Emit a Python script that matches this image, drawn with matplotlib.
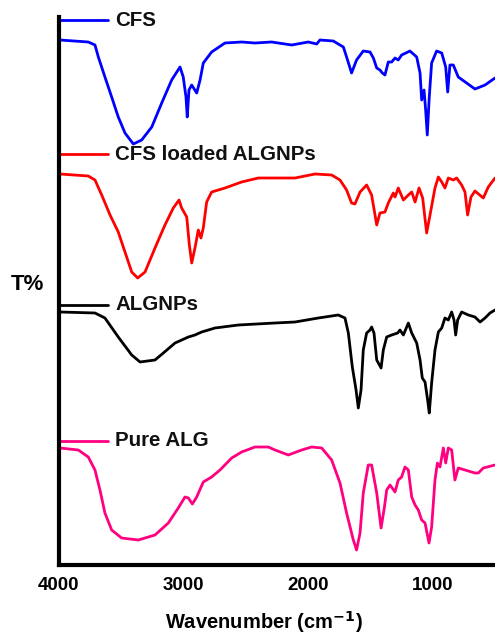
import numpy as np
import matplotlib
matplotlib.use('Agg')
import matplotlib.pyplot as plt

plt.rcParams['font.family'] = ['Liberation Sans', 'DejaVu Sans']
plt.rcParams['font.weight'] = 'bold'

# stacked FTIR spectra (offset transmittance, arbitrary units)
wn_cfs = [3992, 3765, 3711, 3684, 3631, 3577, 3524, 3470, 3403, 3336, 3255, 3175,
          3095, 3028, 3002, 2980, 2970, 2956, 2934, 2894, 2867, 2841, 2774, 2667,
          2533, 2426, 2292, 2131, 1998, 1930, 1904, 1797, 1716, 1690, 1650, 1610,
          1556, 1502, 1475, 1448, 1422, 1403, 1382, 1355, 1328, 1301, 1275, 1248,
          1181, 1127, 1100, 1087, 1068, 1055, 1042, 1026, 1007, 967, 926, 894,
          878, 860, 833, 793, 726, 659, 578, 498]
t_cfs = [525, 523, 520, 508, 488, 468, 448, 432, 421, 425, 438, 462,
         485, 498, 488, 468, 448, 475, 480, 472, 485, 502, 513, 522,
         523, 522, 523, 520, 523, 521, 525, 524, 518, 508, 492, 505,
         514, 513, 507, 497, 495, 492, 490, 503, 503, 507, 505, 510,
         514, 508, 492, 465, 475, 455, 430, 468, 502, 514, 512, 498,
         473, 500, 500, 488, 482, 476, 480, 487]

wn_load = [3992, 3765, 3711, 3657, 3590, 3524, 3470, 3416, 3368, 3309, 3229, 3149,
           3082, 3036, 3015, 2974, 2953, 2934, 2908, 2881, 2860, 2841, 2814, 2774,
           2667, 2533, 2399, 2265, 2104, 1944, 1810, 1743, 1690, 1650, 1623, 1582,
           1529, 1489, 1448, 1422, 1382, 1355, 1315, 1301, 1275, 1234, 1194, 1167,
           1140, 1108, 1079, 1047, 1020, 980, 953, 926, 900, 873, 833, 806,
           766, 739, 718, 691, 659, 592, 552, 498]
t_load = [391, 389, 385, 370, 350, 333, 313, 293, 287, 293, 317, 340,
          357, 365, 357, 348, 320, 302, 317, 335, 327, 337, 363, 373,
          377, 383, 387, 387, 387, 391, 390, 385, 375, 362, 361, 373,
          380, 370, 340, 352, 353, 362, 372, 368, 377, 365, 370, 373,
          363, 377, 367, 332, 350, 377, 388, 383, 377, 387, 385, 387,
          380, 373, 350, 368, 374, 367, 378, 387]

wn_algnp = [3992, 3711, 3631, 3524, 3416, 3349, 3229, 3162, 3068, 2961, 2908, 2854,
            2747, 2560, 2265, 2104, 1917, 1757, 1703, 1676, 1644, 1614, 1596, 1574,
            1556, 1529, 1502, 1489, 1470, 1448, 1413, 1395, 1368, 1328, 1280, 1261,
            1234, 1194, 1167, 1127, 1100, 1082, 1060, 1039, 1026, 1007, 980, 953,
            926, 900, 873, 846, 827, 814, 798, 766, 712, 659, 618, 578, 538, 498]
t_algnp = [253, 252, 247, 228, 210, 203, 205, 212, 222, 228, 230, 233,
           237, 240, 242, 243, 247, 250, 247, 232, 198, 175, 157, 175,
           215, 232, 235, 238, 232, 205, 197, 215, 228, 230, 232, 235,
           230, 242, 232, 222, 205, 187, 183, 165, 152, 182, 215, 233,
           237, 247, 245, 253, 245, 230, 245, 253, 250, 248, 243, 247, 252, 255]

wn_alg = [3992, 3845, 3765, 3711, 3671, 3631, 3577, 3497, 3363, 3229, 3122, 3042,
          2988, 2961, 2929, 2894, 2841, 2774, 2707, 2613, 2533, 2426, 2319, 2265,
          2158, 2051, 1971, 1890, 1810, 1743, 1690, 1636, 1610, 1582, 1556, 1516,
          1489, 1448, 1413, 1386, 1368, 1341, 1301, 1275, 1248, 1221, 1194, 1167,
          1140, 1114, 1087, 1060, 1028, 1007, 980, 961, 940, 913, 894, 873,
          846, 820, 793, 739, 659, 632, 592, 498]
t_alg = [117, 115, 108, 95, 75, 52, 35, 27, 25, 30, 42, 57,
         68, 67, 61, 68, 83, 88, 95, 107, 113, 118, 118, 115,
         110, 115, 118, 117, 105, 82, 52, 25, 15, 32, 72, 100,
         100, 72, 37, 58, 75, 80, 73, 85, 88, 98, 95, 68,
         60, 55, 45, 42, 22, 38, 85, 102, 98, 117, 102, 117,
         115, 85, 97, 95, 92, 92, 97, 100]

names = ['CFS', 'CFS loaded ALGNPs', 'ALGNPs', 'Pure ALG']
spectra = [(wn_cfs, t_cfs), (wn_load, t_load), (wn_algnp, t_algnp), (wn_alg, t_alg)]
colors = ['#0000ff', '#ff0000', '#000000', '#ff0080']
key_y = [545, 411, 260, 124]

fig = plt.figure(figsize=(4.95, 6.37), dpi=100)
ax = fig.add_axes([59 / 495, 1 - 565 / 637, 1 - 59 / 495, (565 - 17) / 637])

for name, (wn, t), col, ky in zip(names, spectra, colors, key_y):
    ax.plot(wn, t, color=col, lw=2.0, solid_joinstyle='round', solid_capstyle='round')
    # short key line with the sample name beside it
    ax.plot([4000, 3606], [ky, ky], color=col, lw=2.0, solid_capstyle='round')
    ax.text(3550, ky, name, color='#111111', fontsize=14.8, fontweight='bold',
            va='center', ha='left')

ax.set_xlim(4000, 498)
ax.set_ylim(0, 548)
ax.set_xticks([4000, 3000, 2000, 1000])
ax.set_yticks([])
ax.tick_params(axis='x', length=0, pad=9, labelsize=13.5)
for lab in ax.get_xticklabels():
    lab.set_fontweight('bold')

for side in ['top', 'right']:
    ax.spines[side].set_visible(False)
for side in ['left', 'bottom']:
    ax.spines[side].set_linewidth(3)

fig.text(264 / 495, 1 - 622 / 637, 'Wavenumber (cm$^{\\mathbf{-1}}$)', fontsize=14.5,
         fontweight='bold', ha='center', va='center')
fig.text(27 / 495, 1 - 285 / 637, 'T%', fontsize=16, fontweight='bold', ha='center', va='center')

fig.savefig('out.png', dpi=100)
